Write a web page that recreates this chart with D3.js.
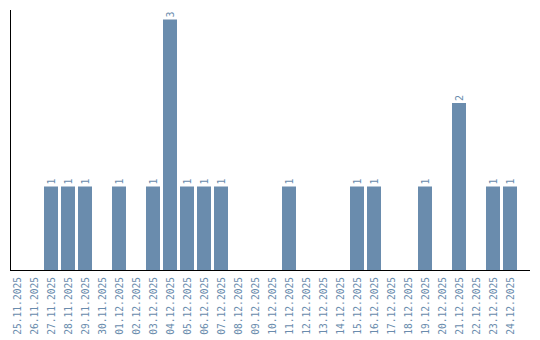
<!DOCTYPE html>
<html><head><meta charset="utf-8">
<script src="https://cdn.jsdelivr.net/npm/d3@7"></script>
<style>body{margin:0;background:#fff}</style>
</head><body>
<svg id="c" width="540" height="340"></svg>
<script>
const dates = ["25.11.2025","26.11.2025","27.11.2025","28.11.2025","29.11.2025","30.11.2025","01.12.2025","02.12.2025","03.12.2025","04.12.2025","05.12.2025","06.12.2025","07.12.2025","08.12.2025","09.12.2025","10.12.2025","11.12.2025","12.12.2025","13.12.2025","14.12.2025","15.12.2025","16.12.2025","17.12.2025","18.12.2025","19.12.2025","20.12.2025","21.12.2025","22.12.2025","23.12.2025","24.12.2025"];
const counts = [0,0,1,1,1,0,1,0,1,3,1,1,1,0,0,0,1,0,0,0,1,1,0,0,1,0,2,0,1,1];

const color = "#6a8cad";
const svg = d3.select("#c");
const x = d3.scaleBand().domain(dates).range([10, 517]).paddingInner(3/17).paddingOuter(0);
const y = d3.scaleLinear().domain([0, 3]).range([270, 19.5]);

svg.selectAll("rect.bar").data(dates.map((d,i)=>({d, v:counts[i]})).filter(e=>e.v>0))
  .enter().append("rect")
  .attr("x", e=>x(e.d)).attr("width", x.bandwidth())
  .attr("y", e=>y(e.v)).attr("height", e=>y(0)-y(e.v))
  .attr("fill", color);

svg.selectAll("text.val").data(dates.map((d,i)=>({d, v:counts[i]})).filter(e=>e.v>0))
  .enter().append("text")
  .attr("transform", e=>`translate(${x(e.d)+x.bandwidth()/2+3.5},${y(e.v)-2}) rotate(-90)`)
  .attr("font-family","DejaVu Sans Mono").attr("font-size","10px")
  .attr("fill", color).text(e=>e.v);

const xAxis = svg.append("g").attr("transform","translate(0,270)")
  .call(d3.axisBottom(x).tickSize(0).tickPadding(0));
xAxis.select(".domain").remove();
xAxis.selectAll("text")
  .attr("font-family","DejaVu Sans Mono").attr("font-size","9.6px")
  .attr("fill", color)
  .attr("text-anchor","end")
  .attr("dy", null).attr("y", 0)
  .attr("transform","translate(3.5,7) rotate(-90)");

svg.append("line").attr("x1",10.5).attr("x2",10.5).attr("y1",10).attr("y2",270.5).attr("stroke","#000");
svg.append("line").attr("x1",10).attr("x2",530).attr("y1",270.5).attr("y2",270.5).attr("stroke","#000");
</script>
</body></html>
